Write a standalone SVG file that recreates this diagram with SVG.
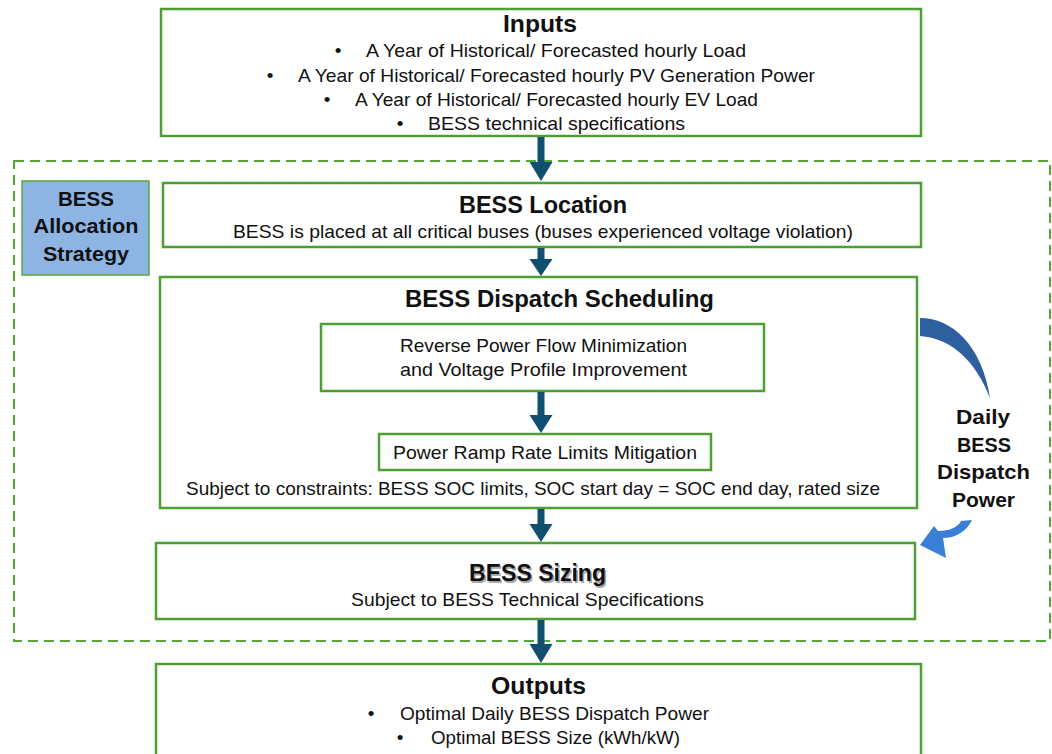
<svg xmlns="http://www.w3.org/2000/svg" width="1052" height="754" viewBox="0 0 1052 754">
<defs>
<style>
.box{fill:#ffffff;stroke:#4e9f32;stroke-width:2.5}
.t{font-family:"Liberation Sans",Arial,sans-serif;fill:#111;text-anchor:middle}
.h{font-size:23px;font-weight:bold}
.n{font-size:19px}
.side{font-family:"Liberation Sans",Arial,sans-serif;font-weight:bold;font-size:21px;fill:#111;text-anchor:middle}
.arr{fill:#114e70}
</style>
</defs>
<rect width="1052" height="754" fill="#ffffff"/>

<g id="strategy-frame">
<rect x="14" y="161" width="1036" height="480" fill="none" stroke="#52a834" stroke-width="2" stroke-dasharray="10,6"/>
</g>

<g id="inputs">
<rect class="box" x="161" y="9" width="760" height="127"/>
<text class="t h" x="540" y="32" textLength="74" lengthAdjust="spacingAndGlyphs">Inputs</text>
<text class="t n" x="338" y="57">•</text>
<text class="t n" x="556" y="57" textLength="380" lengthAdjust="spacingAndGlyphs">A Year of Historical/ Forecasted hourly  Load</text>
<text class="t n" x="270" y="82">•</text>
<text class="t n" x="556.5" y="82" textLength="517" lengthAdjust="spacingAndGlyphs">A Year of Historical/ Forecasted hourly PV Generation Power</text>
<text class="t n" x="327" y="106">•</text>
<text class="t n" x="556.5" y="106" textLength="403" lengthAdjust="spacingAndGlyphs">A Year of Historical/ Forecasted hourly EV Load</text>
<text class="t n" x="400" y="130">•</text>
<text class="t n" x="556.5" y="130" textLength="257" lengthAdjust="spacingAndGlyphs">BESS technical specifications</text>
</g>

<g id="allocation-strategy">
<rect x="22" y="181" width="127" height="94" fill="#8db4e2" stroke="#5aa83c" stroke-width="1.5"/>
<text class="side" x="86" y="206" textLength="56" lengthAdjust="spacingAndGlyphs">BESS</text>
<text class="side" x="86" y="233" textLength="105" lengthAdjust="spacingAndGlyphs">Allocation</text>
<text class="side" x="86" y="261" textLength="86" lengthAdjust="spacingAndGlyphs">Strategy</text>
</g>

<g id="bess-location">
<rect class="box" x="163" y="183" width="758" height="64"/>
<text class="t h" x="543" y="213" textLength="168" lengthAdjust="spacingAndGlyphs">BESS Location</text>
<text class="t n" x="543" y="238" textLength="620" lengthAdjust="spacingAndGlyphs">BESS is placed at all critical buses (buses experienced voltage violation)</text>
</g>

<g id="dispatch-scheduling">
<rect class="box" x="160" y="277" width="757" height="231"/>
<text class="t h" x="559.5" y="307" textLength="309" lengthAdjust="spacingAndGlyphs">BESS Dispatch Scheduling</text>
<text class="t n" x="533" y="495" textLength="694" lengthAdjust="spacingAndGlyphs">Subject to constraints: BESS SOC limits, SOC start day = SOC end day, rated size</text>
</g>

<g id="reverse-power-flow">
<rect class="box" x="321" y="324" width="443" height="67"/>
<text class="t n" x="543.5" y="352" textLength="287" lengthAdjust="spacingAndGlyphs">Reverse Power Flow Minimization</text>
<text class="t n" x="543.5" y="376" textLength="287" lengthAdjust="spacingAndGlyphs">and  Voltage Profile Improvement</text>
</g>

<g id="ramp-rate">
<rect class="box" x="379" y="434" width="332" height="36"/>
<text class="t n" x="545" y="459" textLength="304" lengthAdjust="spacingAndGlyphs">Power Ramp Rate  Limits Mitigation</text>
</g>

<g id="bess-sizing">
<rect class="box" x="156" y="543" width="759" height="76"/>
<text class="t h" x="539" y="583" style="fill:#a8a8a8" textLength="137" lengthAdjust="spacingAndGlyphs">BESS Sizing</text>
<text class="t h" x="537.5" y="581" textLength="137" lengthAdjust="spacingAndGlyphs">BESS Sizing</text>
<text class="t n" x="527.5" y="606" textLength="353" lengthAdjust="spacingAndGlyphs">Subject to BESS Technical Specifications</text>
</g>

<g id="outputs">
<rect class="box" x="156" y="664" width="765" height="100"/>
<text class="t h" x="538.5" y="694" textLength="95" lengthAdjust="spacingAndGlyphs">Outputs</text>
<text class="t n" x="371" y="720">•</text>
<text class="t n" x="554.5" y="720" textLength="309" lengthAdjust="spacingAndGlyphs">Optimal Daily BESS Dispatch Power</text>
<text class="t n" x="400" y="744">•</text>
<text class="t n" x="555.5" y="744" textLength="249" lengthAdjust="spacingAndGlyphs">Optimal BESS Size (kWh/kW)</text>
</g>

<g id="daily-dispatch-label">
<text class="side" x="983" y="424" textLength="54" lengthAdjust="spacingAndGlyphs">Daily</text>
<text class="side" x="984" y="452" textLength="54" lengthAdjust="spacingAndGlyphs">BESS</text>
<text class="side" x="983.5" y="479" textLength="93" lengthAdjust="spacingAndGlyphs">Dispatch</text>
<text class="side" x="983.5" y="507" textLength="63" lengthAdjust="spacingAndGlyphs">Power</text>
</g>

<g id="connectors">
<path class="arr" d="M537.5,137 h7 v25 h8 l-11.5,19 l-11.5,-19 h8 z"/>
<path class="arr" d="M537.5,248 h7 v11 h8 l-11.5,17 l-11.5,-17 h8 z"/>
<path class="arr" d="M537.5,392 h7 v23 h8 l-11.5,18 l-11.5,-18 h8 z"/>
<path class="arr" d="M537.5,509 h7 v15 h8 l-11.5,18 l-11.5,-18 h8 z"/>
<path class="arr" d="M537.5,620 h7 v24 h8 l-11.5,19 l-11.5,-19 h8 z"/>
<path d="M920,318 C952,318 982,345 990,398 C976,362 952,338 920,336 Z" fill="#2e5f9e"/>
<path d="M972,520 C966,532 955,538 943,538 L946,558 L920,545 L934,526 L938,531 C950,531 958,527 961,521 Z" fill="#3a7fd6"/>
</g>
</svg>
